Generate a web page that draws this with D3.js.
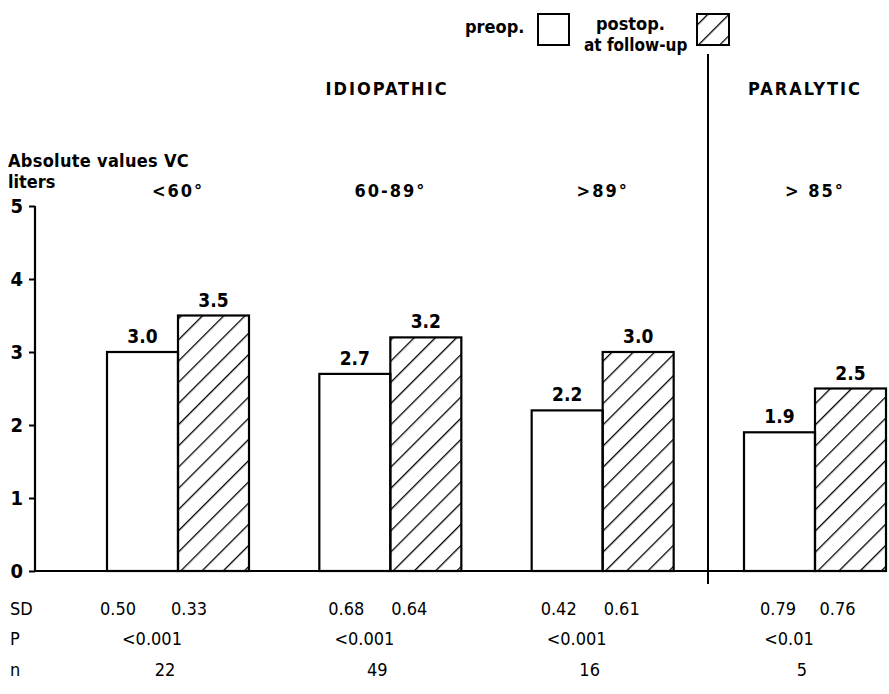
<!DOCTYPE html>
<html>
<head>
<meta charset="utf-8">
<script src="https://cdn.jsdelivr.net/npm/d3@7"></script>
<style>
  body { margin: 0; background: #fff; }
  svg text { font-family: "DejaVu Sans Condensed", "Liberation Sans Narrow", sans-serif; fill: #000; }
  .b { font-weight: bold; }
</style>
</head>
<body>
<svg id="chart" width="889" height="694"></svg>
<script>
// data
var groups   = ["<60°", "60-89°", ">89°", "> 85°"];
var preop    = [3.0, 2.7, 2.2, 1.9];
var postop   = [3.5, 3.2, 3.0, 2.5];
var sdPre    = ["0.50", "0.68", "0.42", "0.79"];
var sdPost   = ["0.33", "0.64", "0.61", "0.76"];
var pValues  = ["<0.001", "<0.001", "<0.001", "<0.01"];
var nValues  = ["22", "49", "16", "5"];
var yTicks   = [0, 1, 2, 3, 4, 5];
var series   = ["preop", "postop"];

// the table under the chart was typed by hand, columns drift a little
var sdNudge  = [-16, 0, 0, 7];

var svg = d3.select("#chart");

var defs = svg.append("defs");
defs.append("pattern")
    .attr("id", "hatch")
    .attr("patternUnits", "userSpaceOnUse")
    .attr("width", 15)
    .attr("height", 15)
    .attr("patternTransform", "rotate(45)")
    .append("line")
        .attr("x1", 0).attr("y1", 0)
        .attr("x2", 0).attr("y2", 15)
        .attr("stroke", "#000")
        .attr("stroke-width", 2.6);

var axisX = 35;
var y = d3.scaleLinear().domain([0, 5]).range([571, 206]);
var x = d3.scalePoint().domain(groups).range([178, 815]);
var xs = d3.scaleBand().domain(series).range([-71, 71]).padding(0);

var rows = groups.map(function(g, i) {
    return { i: i, g: g, preop: preop[i], postop: postop[i], sdPre: sdPre[i], sdPost: sdPost[i], p: pValues[i], n: nValues[i] };
});

///////////////////////
// bars
///////////////////////
var gr = svg.selectAll(".grp").data(rows).enter().append("g")
    .attr("class", "grp")
    .attr("transform", function(d) { return "translate(" + x(d.g) + ",0)"; });

var pairs = function(d) {
    return series.map(function(s) { return { s: s, v: d[s] }; });
};

gr.selectAll("rect").data(pairs)
    .enter().append("rect")
        .attr("x", function(d) { return xs(d.s); })
        .attr("y", function(d) { return y(d.v); })
        .attr("width", xs.bandwidth())
        .attr("height", function(d) { return y(0) - y(d.v); })
        .attr("fill", function(d) { return d.s === "postop" ? "url(#hatch)" : "#fff"; })
        .attr("stroke", "#000")
        .attr("stroke-width", 2.2);

gr.selectAll("text.val").data(pairs)
    .enter().append("text")
        .attr("class", "val b")
        .attr("x", function(d) { return xs(d.s) + xs.bandwidth() / 2; })
        .attr("y", function(d) { return y(d.v) - 9; })
        .attr("text-anchor", "middle")
        .attr("font-size", 19)
        .text(function(d) { return d3.format(".1f")(d.v); });

// category labels
gr.append("text")
    .attr("class", "b")
    .attr("y", 197)
    .attr("text-anchor", "middle")
    .attr("font-size", 18)
    .attr("letter-spacing", 2)
    .text(function(d) { return d.g; });

///////////////////////
// axis
///////////////////////
var yAxis = d3.axisLeft(y).tickValues(yTicks).tickFormat(d3.format("d")).tickSize(6).tickPadding(6);
var ax = svg.append("g")
    .attr("transform", "translate(" + axisX + ",0)")
    .call(yAxis);
ax.select(".domain").attr("d", "M0," + y(5) + "V" + y(0)).attr("stroke-width", 2.2);
ax.selectAll(".tick line").attr("stroke-width", 2);
ax.selectAll(".tick text")
    .attr("class", "b")
    .attr("font-size", 20)
    .style("font-family", "DejaVu Sans Condensed, sans-serif");

// baseline
svg.append("line")
    .attr("x1", axisX).attr("x2", x(groups[3]) + 71)
    .attr("y1", y(0)).attr("y2", y(0))
    .attr("stroke", "#000").attr("stroke-width", 2.2);

// separator idiopathic / paralytic
svg.append("line")
    .attr("x1", 708).attr("x2", 708)
    .attr("y1", 54).attr("y2", 584)
    .attr("stroke", "#000").attr("stroke-width", 2);

///////////////////////
// titles and legend
///////////////////////
svg.append("text").attr("class", "b").attr("x", 8).attr("y", 167).attr("font-size", 18)
    .attr("letter-spacing", 0.3).text("Absolute values VC");
svg.append("text").attr("class", "b").attr("x", 8).attr("y", 188).attr("font-size", 18)
    .text("liters");
svg.append("text").attr("class", "b").attr("x", 387).attr("y", 95).attr("font-size", 18)
    .attr("text-anchor", "middle").attr("letter-spacing", 2).text("IDIOPATHIC");
svg.append("text").attr("class", "b").attr("x", 805).attr("y", 95).attr("font-size", 18)
    .attr("text-anchor", "middle").attr("letter-spacing", 2).text("PARALYTIC");

svg.append("text").attr("class", "b").attr("x", 465).attr("y", 33).attr("font-size", 18).text("preop.");
svg.append("rect").attr("x", 538).attr("y", 14).attr("width", 31).attr("height", 31)
    .attr("fill", "#fff").attr("stroke", "#000").attr("stroke-width", 2);
svg.append("text").attr("class", "b").attr("x", 596).attr("y", 30).attr("font-size", 18).text("postop.");
svg.append("text").attr("class", "b").attr("x", 584).attr("y", 51).attr("font-size", 17).text("at follow-up");
svg.append("rect").attr("x", 697).attr("y", 14).attr("width", 32).attr("height", 31)
    .attr("fill", "url(#hatch)").attr("stroke", "#000").attr("stroke-width", 2);

///////////////////////
// table under the chart
///////////////////////
var rowY = { sd: 615, p: 645, n: 676 };
svg.append("text").attr("x", 10).attr("y", rowY.sd).attr("font-size", 18).text("SD");
svg.append("text").attr("x", 10).attr("y", rowY.p).attr("font-size", 18).text("P");
svg.append("text").attr("x", 10).attr("y", rowY.n).attr("font-size", 18).text("n");

gr.append("text").attr("y", rowY.sd).attr("text-anchor", "middle").attr("font-size", 18)
    .attr("x", function(d) { return -44 + sdNudge[d.i]; })
    .text(function(d) { return d.sdPre; });
gr.append("text").attr("y", rowY.sd).attr("text-anchor", "middle").attr("font-size", 18)
    .attr("x", function(d) { return 19 + sdNudge[d.i] / 2; })
    .text(function(d) { return d.sdPost; });
gr.append("text").attr("y", rowY.p).attr("x", -26).attr("text-anchor", "middle").attr("font-size", 18)
    .text(function(d) { return d.p; });
gr.append("text").attr("y", rowY.n).attr("x", -13).attr("text-anchor", "middle").attr("font-size", 18)
    .text(function(d) { return d.n; });
</script>
</body>
</html>
